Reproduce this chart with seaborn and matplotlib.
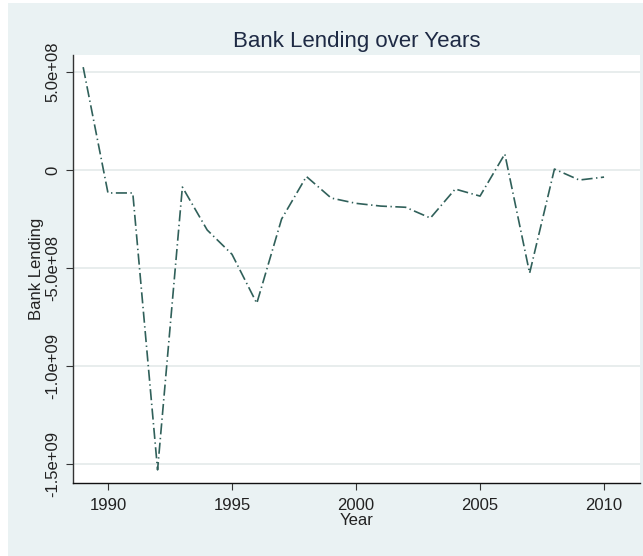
import matplotlib
matplotlib.use("Agg")
import matplotlib.pyplot as plt
from matplotlib.patches import Rectangle
import seaborn as sns
import pandas as pd

# values
years = list(range(1989, 2011))
lending = [5.25e8, -1.17e8, -1.17e8, -1.53e9, -0.87e8, -3.06e8, -4.3e8, -6.8e8,
           -2.5e8, -0.33e8, -1.43e8, -1.7e8, -1.84e8, -1.9e8, -2.45e8, -0.97e8,
           -1.33e8, 0.82e8, -5.26e8, 0.05e8, -0.51e8, -0.36e8]
ytick_vals = [5e8, 0, -5e8, -1e9, -1.5e9]
ytick_text = ["5.0e+08", "0", "-5.0e+08", "-1.0e+09", "-1.5e+09"]
xtick_vals = [1990, 1995, 2000, 2005, 2010]

df = pd.DataFrame({"Year": years, "Bank Lending": lending})

sns.set_style("white")
plt.rcParams["font.family"] = ["Liberation Sans", "DejaVu Sans"]
plt.rcParams["lines.scale_dashes"] = False

bg = "#EAF2F3"
fig = plt.figure(figsize=(6.43, 5.56), dpi=100)
fig.patch.set_facecolor("white")
fig.patches.append(Rectangle((8 / 643, 0), 1, 1 - 3 / 556, transform=fig.transFigure,
                             facecolor=bg, edgecolor="none", zorder=-10))
ax = fig.add_axes([73 / 643, 1 - 483 / 556, (640 - 73) / 643, (483 - 55) / 556])
ax.set_facecolor("white")

sns.lineplot(data=df, x="Year", y="Bank Lending", ax=ax, color="#30605a",
             linewidth=1.2, linestyle=(0, (8, 2.5, 1, 2.5)))

ax.set_xlim(1988.59, 2011.45)
ax.set_ylim(-1.597e9, 5.87e8)
ax.set_xticks(xtick_vals)
ax.set_xticklabels([str(v) for v in xtick_vals], fontsize=12, color="#222222")
ax.set_yticks(ytick_vals)
ax.set_yticklabels(ytick_text, fontsize=12, rotation=90, va="center", color="#222222")

ax.yaxis.grid(True, color="#E4EAEA", linewidth=1.2)
ax.xaxis.grid(False)
ax.set_axisbelow(True)

for side in ["top", "right"]:
    ax.spines[side].set_visible(False)
ax.spines["left"].set_color("#333333")
ax.spines["bottom"].set_color("#111111")
ax.spines["left"].set_linewidth(1.0)
ax.spines["bottom"].set_linewidth(1.0)
ax.tick_params(axis="x", direction="out", length=5, width=0.8, color="#333333",
               bottom=True, pad=6)
ax.tick_params(axis="y", direction="out", length=5, width=0.8, color="#333333",
               left=True, pad=4)

ax.set_xlabel("Year", fontsize=12, color="#222222", labelpad=0)
ax.set_ylabel("Bank Lending", fontsize=12, color="#222222", labelpad=1)
ax.set_title("Bank Lending over Years", fontsize=16, color="#1e2a44", pad=6)

fig.savefig("out.png", dpi=100, facecolor=fig.get_facecolor())
